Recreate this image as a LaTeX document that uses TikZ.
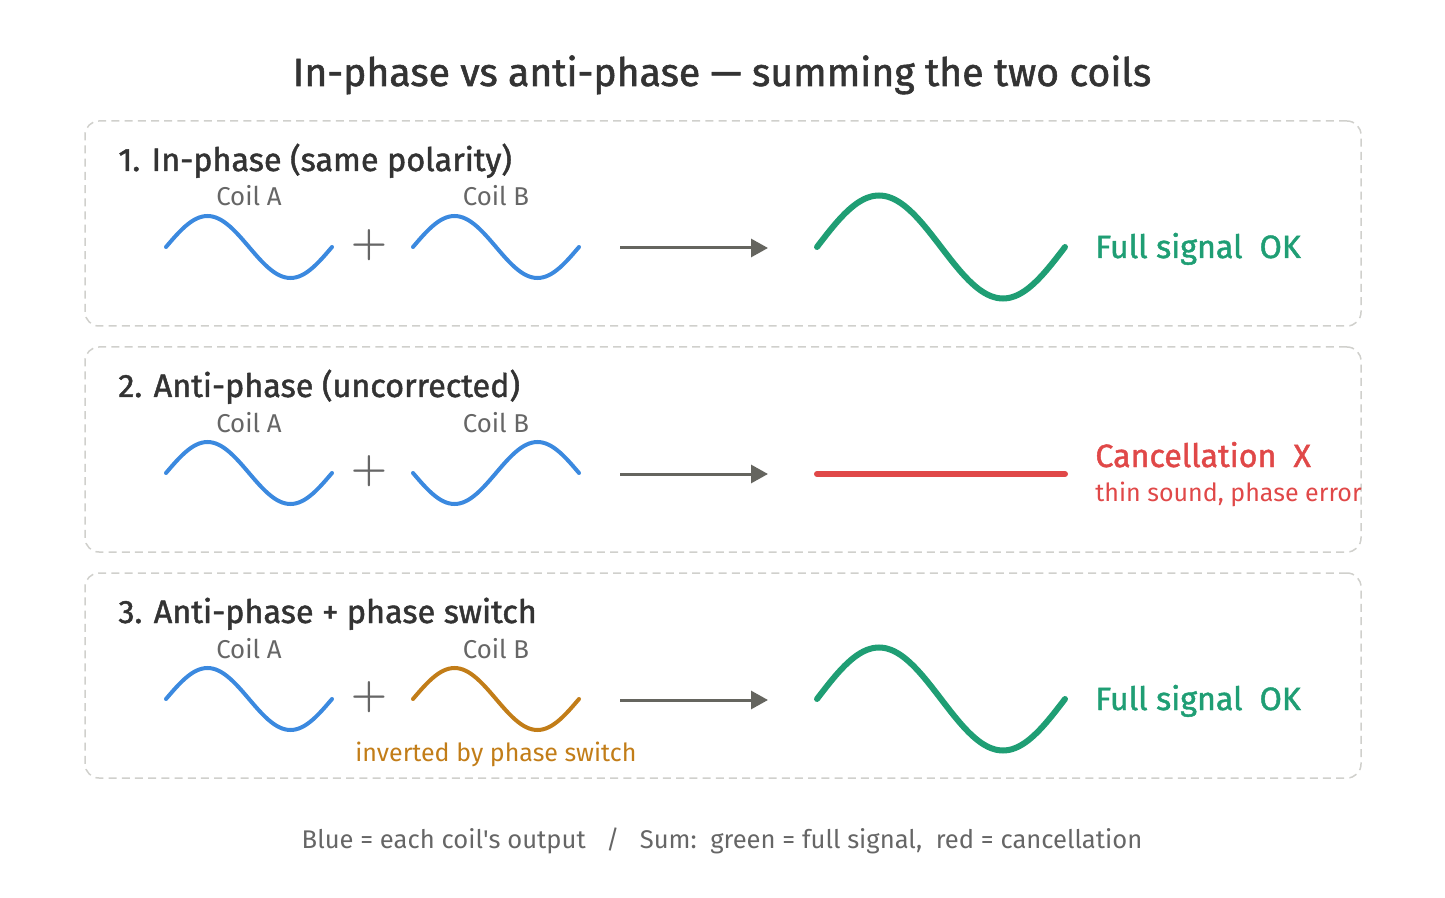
\documentclass[tikz,border=0pt]{standalone}
\usepackage{fontspec}
\setmainfont{Fira Sans}
\newfontfamily\semibold{Fira Sans}[FakeBold=1.4, Ligatures=TeX]
\usetikzlibrary{arrows.meta, positioning}
\definecolor{ink}{HTML}{333333}
\definecolor{mute}{HTML}{666666}
\definecolor{panelgray}{HTML}{D0D0CC}
\definecolor{coilblue}{HTML}{3B89DF}
\definecolor{sumgreen}{HTML}{1F9E74}
\definecolor{cancelred}{HTML}{E04848}
\definecolor{switchorange}{HTML}{C27D18}
\definecolor{arrgray}{HTML}{65655F}
\tikzset{
  panel/.style={rectangle, draw=panelgray, line width=0.75pt,
                dash pattern=on 4pt off 2.6pt, rounded corners=7pt,
                minimum width=638pt, minimum height=102.5pt, inner sep=0pt},
  maintitle/.style={font=\semibold\fontsize{19.6}{23}\selectfont, text=ink, inner sep=0pt},
  heading/.style={font=\semibold\fontsize{16.2}{19}\selectfont, text=ink, inner sep=0pt},
  coillabel/.style={font=\fontsize{12.9}{15}\selectfont, text=mute, inner sep=0pt},
  plus/.style={font=\fontsize{19.5}{20}\selectfont\boldmath, text=mute, inner sep=0pt},
  result/.style={font=\semibold\fontsize{16.1}{19}\selectfont, inner sep=0pt},
  note/.style={font=\fontsize{12.5}{15}\selectfont, inner sep=0pt},
  footer/.style={font=\fontsize{12.8}{15}\selectfont, text=mute, inner sep=0pt},
  coil/.style={coilblue, line width=2pt, line cap=round},
  flipped/.style={switchorange, line width=2pt, line cap=round},
  sum/.style={sumgreen, line width=3pt, line cap=round},
  cancel/.style={cancelred, line width=3pt, line cap=round},
  arr/.style={-{Triangle[length=8.5pt, width=9pt]}, arrgray, line width=1.5pt},
}
\begin{document}
\begin{tikzpicture}[x=0.5pt, y=-0.5pt]
  \useasboundingbox (0,0) rectangle (1445,898);
  \node[maintitle, anchor=base] (title) at (722,86)
    {In-phase vs anti-phase — summing the two coils};

  % 1. in-phase
  \node[panel] (p1) at (723,223.5) {};
  \node[heading, anchor=base west] (h1) at (118,171) {1. In-phase (same polarity)};
  \node[coillabel, anchor=base] (a1) at (249,206) {Coil A};
  \node[coillabel, anchor=base] (b1) at (496,206) {Coil B};
  \draw[coil] plot[domain=0:360, samples=61] ({166+\x/360*166}, {247-31*sin(\x)});
  \node[plus] (plus1) at (369,245) {$+$};
  \draw[coil] plot[domain=0:360, samples=61] ({413+\x/360*166}, {247-31*sin(\x)});
  \coordinate (from1) at (620,248);
  \coordinate (to1) at (768,248);
  \draw[arr] (from1) -- (to1);
  \draw[sum] plot[domain=0:360, samples=81] ({817+\x/360*248}, {247-51.5*sin(\x)});
  \node[result, text=sumgreen, anchor=base west] (r1) at (1095,258) {Full signal~~OK};

  % 2. anti-phase
  \node[panel] (p2) at (723,449.5) {};
  \node[heading, anchor=base west] (h2) at (118,397) {2. Anti-phase (uncorrected)};
  \node[coillabel, anchor=base] (a2) at (249,432) {Coil A};
  \node[coillabel, anchor=base] (b2) at (496,432) {Coil B};
  \draw[coil] plot[domain=0:360, samples=61] ({166+\x/360*166}, {473-31*sin(\x)});
  \node[plus] (plus2) at (369,471) {$+$};
  \draw[coil] plot[domain=0:360, samples=61] ({413+\x/360*166}, {473+31*sin(\x)});
  \coordinate (from2) at (620,474);
  \coordinate (to2) at (768,474);
  \draw[arr] (from2) -- (to2);
  \coordinate (flatL) at (817,474);
  \coordinate (flatR) at (1065,474);
  \draw[cancel] (flatL) -- (flatR);
  \node[result, text=cancelred, anchor=base west] (r2) at (1095,467) {Cancellation~~X};
  \node[note, text=cancelred, anchor=base west] (n2) at (1095,501) {thin sound, phase error};

  % 3. anti-phase + switch
  \node[panel] (p3) at (723,675.5) {};
  \node[heading, anchor=base west] (h3) at (118,623) {3. Anti-phase + phase switch};
  \node[coillabel, anchor=base] (a3) at (249,658) {Coil A};
  \node[coillabel, anchor=base] (b3) at (496,658) {Coil B};
  \draw[coil] plot[domain=0:360, samples=61] ({166+\x/360*166}, {699-31*sin(\x)});
  \node[plus] (plus3) at (369,697) {$+$};
  \draw[flipped] plot[domain=0:360, samples=61] ({413+\x/360*166}, {699-31*sin(\x)});
  \node[note, text=switchorange, anchor=base west] (n3) at (355,761) {inverted by phase switch};
  \coordinate (from3) at (620,700);
  \coordinate (to3) at (768,700);
  \draw[arr] (from3) -- (to3);
  \draw[sum] plot[domain=0:360, samples=81] ({817+\x/360*248}, {699-51.5*sin(\x)});
  \node[result, text=sumgreen, anchor=base west] (r3) at (1095,710) {Full signal~~OK};

  \node[footer, anchor=base] (legend) at (722,848)
    {Blue = each coil\textquotesingle s output~~~/~~~Sum:~~green = full signal,~~red = cancellation};
\end{tikzpicture}
\end{document}
